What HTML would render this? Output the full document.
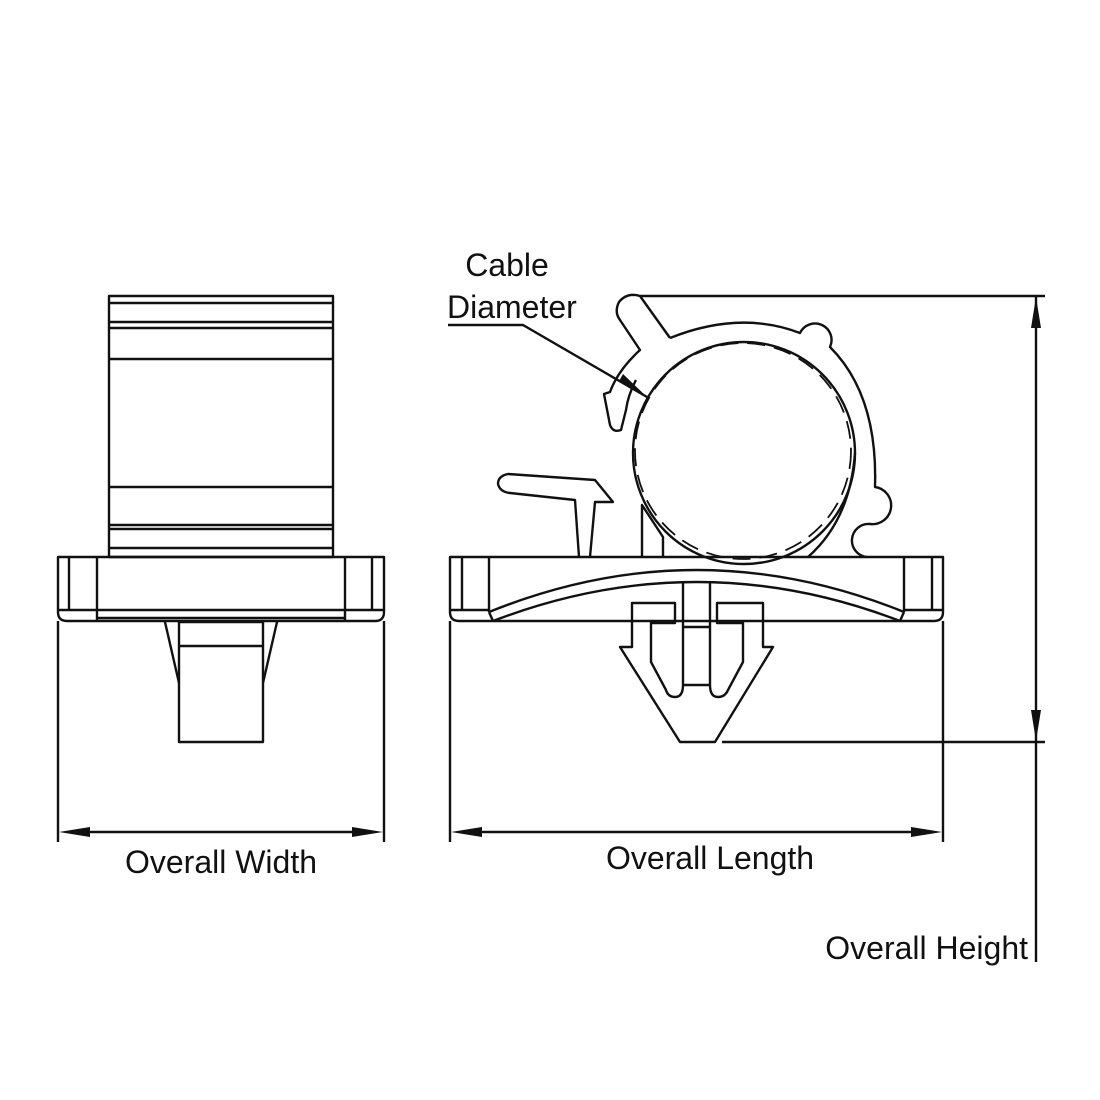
<!DOCTYPE html>
<html><head><meta charset="utf-8"><style>
html,body{margin:0;padding:0;background:#fff}
svg{display:block}
text{font-family:"Liberation Sans",Arial,sans-serif;font-size:32px;fill:#111}
</style></head><body>
<svg width="1100" height="1100" viewBox="0 0 1100 1100" xmlns="http://www.w3.org/2000/svg">
<g fill="none" stroke="#111" stroke-width="2.4" stroke-linejoin="round">
<rect x="109" y="296" width="224" height="261"/>
<line x1="109" y1="303" x2="333" y2="303"/>
<line x1="109" y1="322" x2="333" y2="322"/>
<line x1="109" y1="328" x2="333" y2="328"/>
<line x1="109" y1="359" x2="333" y2="359"/>
<line x1="109" y1="487" x2="333" y2="487"/>
<line x1="109" y1="525" x2="333" y2="525"/>
<line x1="109" y1="529" x2="333" y2="529"/>
<line x1="109" y1="548" x2="333" y2="548"/>
<path d="M58 557 H384 V612 Q384 621 375 621 H67 Q58 621 58 612 Z"/>
<line x1="69" y1="557" x2="69" y2="610"/>
<line x1="97" y1="557" x2="97" y2="621"/>
<line x1="345" y1="557" x2="345" y2="621"/>
<line x1="372" y1="557" x2="372" y2="610"/>
<line x1="58" y1="610" x2="384" y2="610"/>
<line x1="97" y1="618" x2="345" y2="618"/>
<rect x="179" y="622" width="84" height="120"/>
<line x1="179" y1="646" x2="263" y2="646"/>
<path d="M165 622 L179 683 M277 622 L263 683"/>
<line x1="58" y1="621" x2="58" y2="842"/>
<line x1="384" y1="621" x2="384" y2="842"/>
<line x1="68" y1="832" x2="374" y2="832"/>

<path d="M450 557 H943 V612 Q943 621 934 621 H459 Q450 621 450 612 Z"/>
<line x1="462" y1="557" x2="462" y2="610"/>
<line x1="489" y1="557" x2="489" y2="612"/>
<line x1="904" y1="557" x2="904" y2="612"/>
<line x1="932" y1="557" x2="932" y2="610"/>
<line x1="450" y1="610" x2="489" y2="610"/>
<line x1="904" y1="610" x2="943" y2="610"/>
<path d="M489 612 Q697 528 904 612"/>
<path d="M493 621 Q697 543 900 621"/>
<line x1="489" y1="612" x2="493" y2="621"/>
<line x1="904" y1="612" x2="900" y2="621"/>
<line x1="683" y1="582" x2="683" y2="685"/>
<line x1="710" y1="582" x2="710" y2="685"/>
<line x1="683" y1="627" x2="710" y2="627"/>
<line x1="683" y1="685" x2="710" y2="685"/>
<path d="M683 685 Q683 697 675 697 Q668 697 666 690 L651 662 V623 H675 V603 H632 V647 H620 L680 742 H715 L773 647 H763 V603 H717 V623 H743 V662 L728 690 Q725 697 718 697 Q710 697 710 685"/>
<line x1="450" y1="621" x2="450" y2="842"/>
<line x1="943" y1="621" x2="943" y2="842"/>
<line x1="460" y1="832" x2="933" y2="832"/>

<circle cx="744" cy="453" r="111"/>
<circle cx="743" cy="451" r="108" stroke-dasharray="18 9" stroke-width="1.8"/>
<path d="M670 338 Q740 310 800 333 A13 13 0 0 1 830 347 Q878 395 875 487 A14 14 0 0 1 870 524 A14 14 0 0 0 867 557"/>
<path d="M808 557 Q850 520 855 453"/>
<path d="M670 338 L640 296 Q627 292 619 302 Q614 312 620 320 L640 350 Q618 370 610 392 L604 394 L610 425 Q613 433 621 430 L626 410 Q628 395 636 380"/>
<path d="M590 557 L595 502 H613 L595 480 L508 474 Q498 476 498 484 Q500 492 510 493 L575 500 L579 557"/>
<path d="M642 557 V505 L663 537 V557"/>

<line x1="640" y1="296" x2="1045" y2="296"/>
<line x1="722" y1="742" x2="1045" y2="742"/>
<line x1="1036" y1="296" x2="1036" y2="962"/>
<path d="M448 325 H523 L647 397"/>
</g>
<g fill="#111" stroke="none">
<polygon points="1036,297 1031,328 1041,328"/>
<polygon points="1036,741 1031,710 1041,710"/>
<polygon points="59,832 90,827 90,837"/>
<polygon points="383,832 352,827 352,837"/>
<polygon points="451,832 482,827 482,837"/>
<polygon points="942,832 911,827 911,837"/>
<polygon points="647,397 619,381 623,374"/>
</g>
<text x="507" y="276" text-anchor="middle">Cable</text>
<text x="447" y="318">Diameter</text>
<text x="221" y="873" text-anchor="middle">Overall Width</text>
<text x="710" y="869" text-anchor="middle">Overall Length</text>
<text x="1028" y="959" text-anchor="end">Overall Height</text>
</svg>
</body></html>
